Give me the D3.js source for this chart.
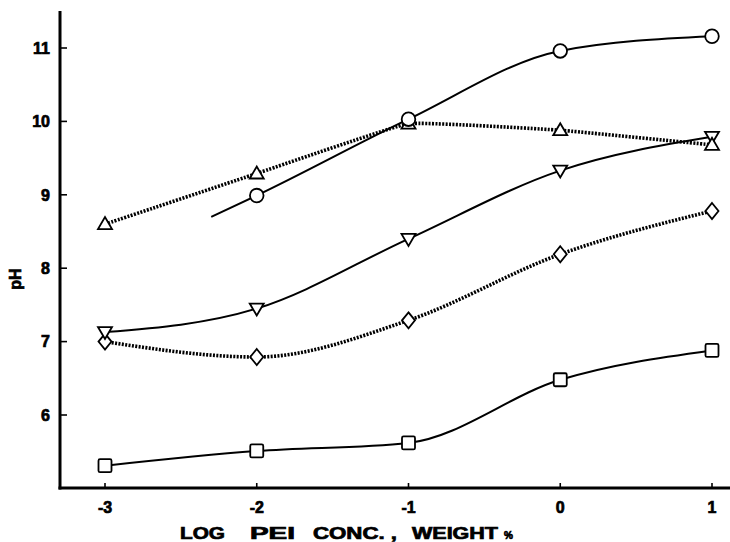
<!DOCTYPE html>
<html><head><meta charset="utf-8">
<script src="https://cdn.jsdelivr.net/npm/d3@7"></script>
<style>
html,body{margin:0;padding:0;background:#fff;}
svg text{font-family:"Liberation Sans",Arial,sans-serif;font-weight:bold;fill:#000;stroke:#000;stroke-width:0.7px;}
</style></head>
<body>
<svg id="chart" width="730" height="542"></svg>
<script>
// ---- data ----
const xTicks = [-3, -2, -1, 0, 1];
const yTicks = [6, 7, 8, 9, 10, 11];
const logConc = [-3, -2, -1, 0, 1];

const circleX = [-2, -1, 0, 1];
const circlePH = [8.99, 10.03, 10.96, 11.16];
const circleLineStartX = -2.3;   // curve drawn slightly beyond first point
const circleLineStartPH = 8.70;

const triUpPH = [8.60, 9.29, 9.97, 9.88, 9.68];
const triDownPH = [7.13, 7.45, 8.40, 9.33, 9.79];
const diamondPH = [7.00, 6.79, 7.29, 8.19, 8.78];
const squarePH = [5.31, 5.51, 5.62, 6.48, 6.88];

const xTitleWords = ["LOG", "PEI", "CONC. ,", "WEIGHT", "%"];
const yTitle = "pH";

// ---- layout ----
const svg = d3.select("#chart");
const x = d3.scaleLinear().domain([-3, 1]).range([105, 712]);
const y = d3.scaleLinear().domain([5, 11]).range([488.4, 48]);
const axisLeftX = 60, axisBottomY = 488, axisTopY = 11, axisRightX = 730;

// axes lines
svg.append("line").attr("x1", axisLeftX).attr("x2", axisLeftX)
  .attr("y1", axisTopY).attr("y2", axisBottomY + 1.5)
  .attr("stroke", "#000").attr("stroke-width", 3);
svg.append("line").attr("x1", axisLeftX - 1.5).attr("x2", axisRightX)
  .attr("y1", axisBottomY).attr("y2", axisBottomY)
  .attr("stroke", "#000").attr("stroke-width", 3);

// y ticks
const yg = svg.append("g");
yTicks.forEach(t => {
  yg.append("line").attr("x1", axisLeftX).attr("x2", axisLeftX + 7)
    .attr("y1", y(t)).attr("y2", y(t)).attr("stroke", "#000").attr("stroke-width", 1.6);
  yg.append("text").attr("x", 50).attr("y", y(t)).attr("dy", "0.36em")
    .attr("text-anchor", "end").style("font-size", "16px")
    .text(t);
});
// x ticks
const xg = svg.append("g");
xTicks.forEach(t => {
  xg.append("line").attr("x1", x(t)).attr("x2", x(t))
    .attr("y1", axisBottomY).attr("y2", axisBottomY - 5).attr("stroke", "#000").attr("stroke-width", 1.6);
  xg.append("text").attr("x", x(t)).attr("y", 513)
    .attr("text-anchor", "middle").style("font-size", "16px")
    .text(t === 0 ? "0" : (t < 0 ? "-" + Math.abs(t) : String(t)));
});

// titles (word positions spread as in the original wide lettering)
const wordPos = [[180, 45], [250, 45], [313, 84], [412, 86], [504, 9]];
xTitleWords.forEach((w, i) => {
  const t = svg.append("text").attr("x", wordPos[i][0]).attr("y", 539)
    .style("font-size", w === "%" ? "10px" : "16px")
    .attr("xml:space", "preserve")
    .text(w);
  if (w.length > 1) t.attr("textLength", wordPos[i][1]).attr("lengthAdjust", "spacingAndGlyphs");
});
svg.append("text").attr("transform", "translate(21,279) rotate(-90)")
  .attr("text-anchor", "middle").style("font-size", "16px")
  .text(yTitle);

// ---- lines ----
const mono = d3.curveMonotoneX;
const card = d3.curveCardinal.tension(0.75);
const solid = {stroke: "#000", width: 2, dash: null};
const dotted = {stroke: "#000", width: 3.6, dash: "2,1.4"};

function drawLine(pts, st, curve) {
  const line = d3.line().x(d => x(d[0])).y(d => y(d[1])).curve(curve);
  const p = svg.append("path").datum(pts).attr("d", line)
    .attr("fill", "none").attr("stroke", st.stroke).attr("stroke-width", st.width);
  if (st.dash) p.attr("stroke-dasharray", st.dash);
}

const zip = (xs, ys) => xs.map((v, i) => [v, ys[i]]);

drawLine(zip(logConc, squarePH), solid, mono);
drawLine(zip(logConc, diamondPH), dotted, mono);
drawLine(zip(logConc, triDownPH), solid, mono);
drawLine(zip(logConc, triUpPH), dotted, card);
drawLine([[circleLineStartX, circleLineStartPH]].concat(zip(circleX, circlePH)), solid, mono);

// ---- markers ----
const mk = svg.append("g").attr("fill", "#fff").attr("stroke", "#000").attr("stroke-width", 1.8);
zip(logConc, squarePH).forEach(d => {
  mk.append("rect").attr("x", x(d[0]) - 6.5).attr("y", y(d[1]) - 6.5)
    .attr("width", 13).attr("height", 13).attr("rx", 1.5);
});
zip(logConc, diamondPH).forEach(d => {
  const cx = x(d[0]), cy = y(d[1]);
  mk.append("path").attr("d", `M${cx},${cy-8}L${cx+6.5},${cy}L${cx},${cy+8}L${cx-6.5},${cy}Z`);
});
zip(logConc, triDownPH).forEach(d => {
  const cx = x(d[0]), cy = y(d[1]);
  mk.append("path").attr("d", `M${cx-7},${cy-5}L${cx+7},${cy-5}L${cx},${cy+7}Z`);
});
zip(logConc, triUpPH).forEach(d => {
  const cx = x(d[0]), cy = y(d[1]);
  mk.append("path").attr("d", `M${cx-7},${cy+5}L${cx+7},${cy+5}L${cx},${cy-7}Z`);
});
zip(circleX, circlePH).forEach(d => {
  mk.append("circle").attr("cx", x(d[0])).attr("cy", y(d[1])).attr("r", 6.8);
});
</script>
</body></html>
